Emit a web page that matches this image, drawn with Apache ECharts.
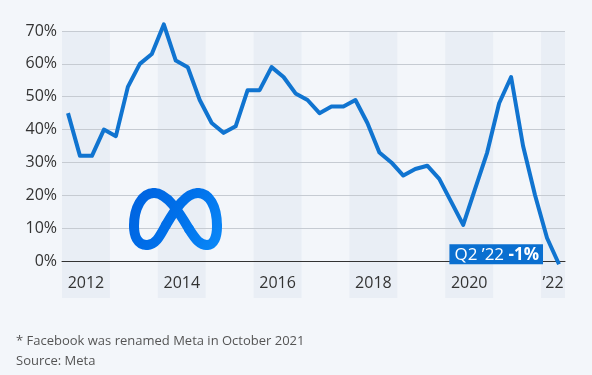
<!DOCTYPE html>
<html>
<head>
<meta charset="utf-8">
<script src="https://cdn.jsdelivr.net/npm/echarts@6/dist/echarts.min.js"></script>
<style>
  html, body { margin: 0; padding: 0; background: #f3f6fa; }
  #chart { width: 592px; height: 375px; }
</style>
</head>
<body>
<div id="chart"></div>
<script>
  var quarters = [
    "Q1 '12", "Q2 '12", "Q3 '12", "Q4 '12",
    "Q1 '13", "Q2 '13", "Q3 '13", "Q4 '13",
    "Q1 '14", "Q2 '14", "Q3 '14", "Q4 '14",
    "Q1 '15", "Q2 '15", "Q3 '15", "Q4 '15",
    "Q1 '16", "Q2 '16", "Q3 '16", "Q4 '16",
    "Q1 '17", "Q2 '17", "Q3 '17", "Q4 '17",
    "Q1 '18", "Q2 '18", "Q3 '18", "Q4 '18",
    "Q1 '19", "Q2 '19", "Q3 '19", "Q4 '19",
    "Q1 '20", "Q2 '20", "Q3 '20", "Q4 '20",
    "Q1 '21", "Q2 '21", "Q3 '21", "Q4 '21",
    "Q1 '22", "Q2 '22"
  ];

  // revenue growth year over year, in percent
  var growth = [
    45, 32, 32, 40,
    38, 53, 60, 63,
    72, 61, 59, 49,
    42, 39, 41, 52,
    52, 59, 56, 51,
    49, 45, 47, 47,
    49, 42, 33, 30,
    26, 28, 29, 25,
    18, 11, 22, 33,
    48, 56, 35, 20,
    7, -1
  ];

  // which quarter carries which year label
  var yearLabels = {
    "Q2 '12": '2012',
    "Q2 '14": '2014',
    "Q2 '16": '2016',
    "Q2 '18": '2018',
    "Q2 '20": '2020',
    "Q1 '22": '\u201922'
  };

  var yTicks = [0, 10, 20, 30, 40, 50, 60, 70];

  var font = '"Open Sans", "Noto Sans", sans-serif';
  var blue = '#1074d0';

  // meta logo, drawn as cubic pieces: [x1, y1, cpx1, cpy1, cpx2, cpy2, x2, y2]
  var logoPieces = [
    [147, 245, 137, 245, 134, 235, 134, 226],
    [134, 226, 134, 208, 142, 193, 154, 193],
    [154, 193, 167, 193, 179, 212, 189, 229],
    [189, 229, 196, 240, 200, 245, 207, 245],
    [207, 245, 214, 245, 217, 237, 217, 226],
    [217, 226, 217, 206, 209, 193, 198, 193],
    [198, 193, 186, 193, 176, 208, 166, 225],
    [166, 225, 159, 238, 155, 245, 147, 245]
  ];

  var logoStroke = {
    type: 'linear', x: 130, y: 190, x2: 221, y2: 246, global: true,
    colorStops: [
      { offset: 0, color: '#0062df' },
      { offset: 0.5, color: '#0070ea' },
      { offset: 1, color: '#0a88f8' }
    ]
  };

  var logo = logoPieces.map(function (p) {
    return {
      type: 'bezierCurve',
      z: 5,
      shape: { x1: p[0], y1: p[1], cpx1: p[2], cpy1: p[3], cpx2: p[4], cpy2: p[5], x2: p[6], y2: p[7] },
      style: { fill: null, stroke: logoStroke, lineWidth: 10, lineCap: 'round' }
    };
  });

  var chart = echarts.init(document.getElementById('chart'));

  var lineData = growth.map(function (v, i) {
    if (i === growth.length - 1) {
      return {
        value: v,
        symbol: 'circle',
        symbolSize: 0,
        label: {
          show: true,
          position: 'left',
          distance: 16,
          offset: [0, -10],
          backgroundColor: '#0a6fd0',
          padding: [1, 4, 0, 5],
          formatter: '{a|Q2 \u201922 }{b|' + v + '%}',
          rich: {
            a: { color: '#fff', fontSize: 17, fontFamily: font, lineHeight: 19 },
            b: { color: '#fff', fontSize: 17, fontFamily: font, fontWeight: 'bold', lineHeight: 19 }
          }
        }
      };
    }
    return v;
  });

  var option = {
    backgroundColor: '#f3f6fa',
    animation: false,
    textStyle: { fontFamily: font },
    title: {
      text: '* Facebook was renamed Meta in October 2021\nSource: Meta',
      left: 16,
      top: 331,
      padding: 0,
      textStyle: {
        fontFamily: font,
        fontSize: 13,
        fontWeight: 'normal',
        color: '#555',
        lineHeight: 20
      }
    },
    grid: [
      { left: 62, right: 27, top: 31, bottom: 114 },
      { left: 62, right: 27, top: 31, bottom: 77 }
    ],
    xAxis: [
      {
        type: 'category',
        gridIndex: 0,
        data: quarters,
        boundaryGap: true,
        axisLine: { show: true, lineStyle: { color: '#333', width: 1 } },
        axisTick: { show: false },
        splitLine: { show: false },
        axisLabel: {
          interval: function (index, value) { return yearLabels[value] !== undefined; },
          formatter: function (value) { return yearLabels[value] || ''; },
          padding: [0, 0, 0, 12],
          margin: 14,
          fontSize: 16,
          color: '#333',
          fontFamily: font
        },
        z: 3
      },
      {
        type: 'category',
        gridIndex: 1,
        data: quarters,
        boundaryGap: true,
        axisLine: { show: false },
        axisTick: { show: false },
        axisLabel: { show: false },
        splitLine: { show: false },
        splitArea: {
          show: true,
          interval: 3,
          areaStyle: { color: ['#e9eef5', 'rgba(0,0,0,0)'] }
        },
        z: 0
      }
    ],
    yAxis: [
      {
        type: 'value',
        gridIndex: 0,
        min: yTicks[0],
        max: yTicks[yTicks.length - 1],
        interval: 10,
        axisLine: { show: false },
        axisTick: { show: false },
        splitLine: { show: true, lineStyle: { color: '#c6cbd2', width: 1 } },
        axisLabel: {
          formatter: '{value}%',
          fontSize: 16,
          color: '#333',
          margin: 5,
          fontFamily: font
        },
        z: 2
      },
      {
        type: 'value',
        gridIndex: 1,
        min: 0,
        max: 1,
        show: false
      }
    ],
    graphic: logo,
    series: [
      {
        type: 'line',
        xAxisIndex: 0,
        yAxisIndex: 0,
        data: lineData,
        symbol: 'none',
        showSymbol: true,
        clip: false,
        lineStyle: { color: blue, width: 4, join: 'round' },
        itemStyle: { color: blue },
        z: 4
      }
    ]
  };

  chart.setOption(option);
</script>
</body>
</html>
